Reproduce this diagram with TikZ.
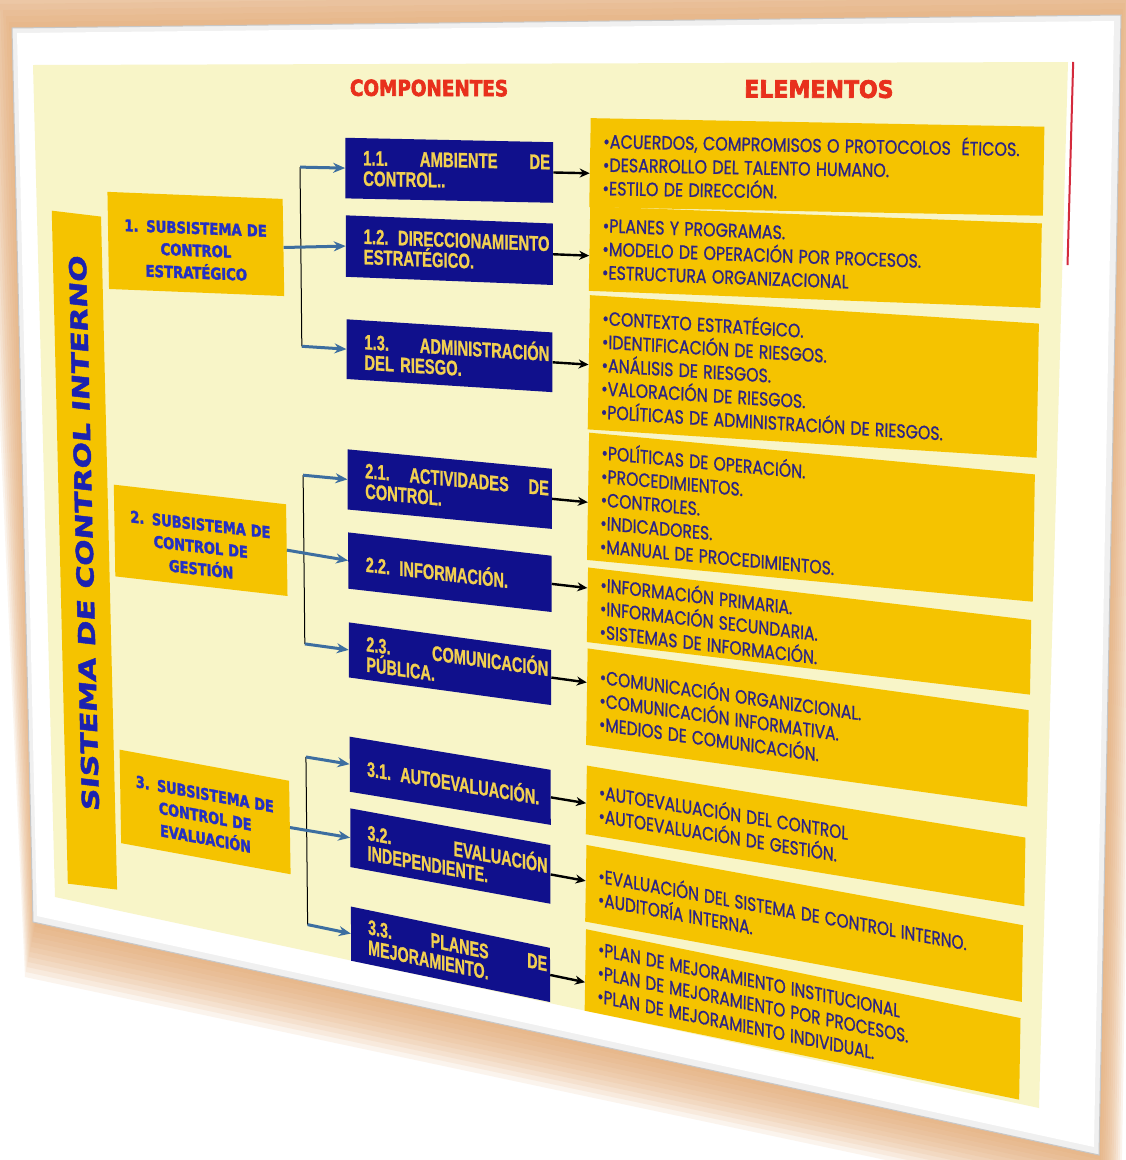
\documentclass[tikz,border=0pt]{standalone}
\usepackage{fontspec}
\newfontfamily\elfont[FakeBold=1]{Poppins}
\newfontfamily\compfont[FakeStretch=0.79,FakeBold=1]{Liberation Sans}
\newfontfamily\lvlfont[FakeStretch=0.86,FakeBold=2]{DejaVu Sans}
\newfontfamily\titfont[FakeStretch=1.28,FakeBold=2]{DejaVu Sans}
\newfontfamily\headfont[FakeStretch=0.92,FakeBold=3]{DejaVu Sans}
\usetikzlibrary{arrows.meta}
\definecolor{cream}{HTML}{F8F5C8}
\definecolor{gold}{HTML}{F5C300}
\definecolor{navy}{HTML}{10108C}
\definecolor{ytext}{HTML}{F2D050}
\definecolor{etext}{HTML}{2C2486}
\definecolor{ltext}{HTML}{2430C4}
\definecolor{ttext}{HTML}{1C22B0}
\definecolor{hred}{HTML}{E8301C}
\definecolor{ablue}{HTML}{3D6EA0}
\definecolor{shad}{HTML}{E3A66C}
\definecolor{rline}{HTML}{D42A3C}
\setlength{\parindent}{0pt}
% bilinear map of the slide (u,v in [0,1]) onto the tilted picture, with local Jacobian
\newcommand\slidecalc[2]{%
  \pgfmathsetmacro\slX{33+1035*(#1)+(#2)*(22-51*(#1))}%
  \pgfmathsetmacro\slY{-(65-3*(#1)+(#2)*(832+214*(#1)))}%
  \pgfmathsetmacro\slJa{(1035-51*(#2))/1035}%
  \pgfmathsetmacro\slJb{(3-214*(#2))/1035}%
  \pgfmathsetmacro\slJc{-(22-51*(#1))/832}%
  \pgfmathsetmacro\slJd{(832+214*(#1))/832}%
}
% component box texts: left indent, justified first line
\newcommand\ctwo[2]{\hspace*{15pt}\makebox[\dimexpr\hsize-15pt][s]{#1}\\\hspace*{15pt}#2}
\newcommand\cone[1]{\hspace*{15pt}\mbox{#1}}
% subsystem first line, pushed down a little
\newcommand\lfirst[2]{\rule{0pt}{#1}\mbox{#2}}
\tikzset{
  uv/.style 2 args={/utils/exec={\slidecalc{#1}{#2}},
    cm={\slJa,\slJb,\slJc,\slJd,(\slX pt,\slY pt)}, transform shape},
  lvl/.style={fill=gold, inner sep=0pt, minimum width=177pt, text width=172pt,
    align=center, text=ltext, font={\lvlfont\bfseries\fontsize{15.5pt}{21.5pt}\selectfont}},
  comp/.style={fill=navy, inner sep=0pt, minimum width=209pt, text width=203pt,
    align=left, text=ytext, font={\compfont\bfseries\fontsize{19pt}{18.5pt}\selectfont}},
  elem/.style={fill=gold, inner sep=0pt, minimum width=456pt, text width=430pt,
    align=left, text=etext, font={\elfont\fontsize{16pt}{19.6pt}\selectfont}},
  hdr/.style={text=hred, inner sep=0pt, font={\headfont\bfseries\fontsize{20pt}{22pt}\selectfont}},
  barttl/.style={text=ttext, inner sep=0pt, font={\titfont\bfseries\fontsize{24pt}{26pt}\selectfont}},
  barrow/.style={draw=ablue, line width=3pt, -{Stealth[length=12pt,width=10pt]}},
  karrow/.style={draw=black, line width=2.4pt, -{Stealth[length=10pt,width=9pt]}},
  vline/.style={draw=black, line width=1pt},
}
\begin{document}
\begin{tikzpicture}[x=1pt,y=1pt]
\useasboundingbox (0,0) rectangle (1126,-1160);
\fill[white] (0,0) rectangle (1126,-1160);
% frame shadow (soft, layered)
\foreach \k in {1,...,11}{
  \fill[shad,opacity=0.12] ({12-3*\k},{-28+6*\k}) -- ({1121+2*\k},{-15+6*\k})
     -- ({1099+2*\k},{-1155-5*\k}) -- ({36-1*\k},{-922-5*\k}) -- cycle;
}
% frame
\fill[black!6] (12,-28) -- (1121,-15) -- (1099,-1155) -- (33,-922) -- cycle;
\fill[white] (17,-33) -- (1114,-21) -- (1094,-1147) -- (37,-916) -- cycle;
\draw[black!22,line width=1pt] (12,-28) -- (1121,-15) -- (1099,-1155) -- (33,-922) -- cycle;
% slide background
\fill[cream] (33,-65) -- (1068,-62) -- (1039,-1108) -- (55,-897) -- cycle;
\coordinate[uv={1.005}{0}] (r1) at (0,0);
\coordinate[uv={1.005}{0.194}] (r2) at (0,0);
\draw[rline,line width=2pt] (r1) -- (r2);

% headers
\node[hdr, uv={0.3826}{0.0264}] (hcomp) {COMPONENTES};
\node[hdr, uv={0.7598}{0.0264}, xscale=1.2] (helem) {ELEMENTOS};

% vertical bar
\node[fill=gold, inner sep=0pt, uv={0.0385}{0.5775}, minimum width=50.7pt, minimum height=666.4pt] (bar) {};
\node[barttl, uv={0.0385}{0.557}, rotate=90] (ttl) {SISTEMA DE CONTROL INTERNO};

% subsystems
\node[lvl, uv={0.1545}{0.2074}, minimum height=93.4pt] (l1) {\lfirst{24pt}{1. SUBSISTEMA DE}\\CONTROL\\ESTRATÉGICO};
\node[lvl, uv={0.1545}{0.55}, minimum height=88.2pt] (l2) {\lfirst{24pt}{2. SUBSISTEMA DE}\\CONTROL DE\\GESTIÓN};
\node[lvl, uv={0.1545}{0.864}, minimum height=89.9pt] (l3) {\lfirst{20pt}{3. SUBSISTEMA DE}\\CONTROL DE\\EVALUACIÓN};

% components
\node[comp, uv={0.402}{0.116}, minimum height=54.9pt] (c11) {\ctwo{1.1.\hfill AMBIENTE\hfill DE}{CONTROL..}};
\node[comp, uv={0.402}{0.203}, minimum height=55.7pt] (c12) {\ctwo{1.2. DIRECCIONAMIENTO}{ESTRATÉGICO.}};
\node[comp, uv={0.402}{0.318}, minimum height=54.1pt] (c13) {\ctwo{1.3.\hfill ADMINISTRACIÓN}{DEL RIESGO.}};
\node[comp, uv={0.402}{0.4633}, minimum height=54.5pt] (c21) {\ctwo{2.1.\hfill ACTIVIDADES\hfill DE}{CONTROL.}};
\node[comp, uv={0.402}{0.5538}, minimum height=51pt] (c22) {\cone{2.2. INFORMACIÓN.}};
\node[comp, uv={0.402}{0.6535}, minimum height=49.9pt] (c23) {\ctwo{2.3.\hfill COMUNICACIÓN}{PÚBLICA.}};
\node[comp, uv={0.402}{0.781}, minimum height=49.9pt] (c31) {\cone{3.1. AUTOEVALUACIÓN.}};
\node[comp, uv={0.402}{0.863}, minimum height=53.2pt] (c32) {\ctwo{3.2.\hfill EVALUACIÓN}{INDEPENDIENTE.}};
\node[comp, uv={0.402}{0.970}, minimum height=49.1pt] (c33) {\ctwo{3.3.\hfill PLANES\hfill DE}{MEJORAMIENTO.}};

% elements
\node[elem, uv={0.759}{0.1048}, minimum height=74.5pt] (e1) {\mbox{•ACUERDOS, COMPROMISOS O PROTOCOLOS\ \ ÉTICOS.}\\\mbox{•DESARROLLO DEL TALENTO HUMANO.}\\\mbox{•ESTILO DE DIRECCIÓN.}};
\node[elem, uv={0.759}{0.1955}, minimum height=70.7pt] (e2) {\mbox{•PLANES Y PROGRAMAS.}\\\mbox{•MODELO DE OPERACIÓN POR PROCESOS.}\\\mbox{•ESTRUCTURA ORGANIZACIONAL}};
\node[elem, uv={0.759}{0.3155}, minimum height=112.3pt] (e3) {\mbox{•CONTEXTO ESTRATÉGICO.}\\\mbox{•IDENTIFICACIÓN DE RIESGOS.}\\\mbox{•ANÁLISIS DE RIESGOS.}\\\mbox{•VALORACIÓN DE RIESGOS.}\\\mbox{•POLÍTICAS DE ADMINISTRACIÓN DE RIESGOS.}};
\node[elem, uv={0.759}{0.457}, minimum height=106.5pt] (e4) {\mbox{•POLÍTICAS DE OPERACIÓN.}\\\mbox{•PROCEDIMIENTOS.}\\\mbox{•CONTROLES.}\\\mbox{•INDICADORES.}\\\mbox{•MANUAL DE PROCEDIMIENTOS.}};
\node[elem, uv={0.759}{0.5715}, minimum height=62.4pt] (e5) {\mbox{•INFORMACIÓN PRIMARIA.}\\\mbox{•INFORMACIÓN SECUNDARIA.}\\\mbox{•SISTEMAS DE INFORMACIÓN.}};
\node[elem, uv={0.759}{0.6685}, minimum height=80.7pt] (e6) {\mbox{•COMUNICACIÓN ORGANIZCIONAL.}\\\mbox{•COMUNICACIÓN INFORMATIVA.}\\\mbox{•MEDIOS DE COMUNICACIÓN.}};
\node[elem, uv={0.759}{0.7775}, minimum height=57.4pt] (e7) {\mbox{•AUTOEVALUACIÓN DEL CONTROL}\\\mbox{•AUTOEVALUACIÓN DE GESTIÓN.}};
\node[elem, uv={0.759}{0.8655}, minimum height=64.1pt] (e8) {\mbox{•EVALUACIÓN DEL SISTEMA DE CONTROL INTERNO.}\\\mbox{•AUDITORÍA INTERNA.}};
\node[elem, uv={0.759}{0.957}, minimum height=68.2pt] (e9) {\mbox{•PLAN DE MEJORAMIENTO INSTITUCIONAL}\\\mbox{•PLAN DE MEJORAMIENTO POR PROCESOS.}\\\mbox{•PLAN DE MEJORAMIENTO INDIVIDUAL.}};

% junction coordinates of the brackets
\coordinate[uv={0.257}{0.116}] (j11) at (0,0);
\coordinate[uv={0.257}{0.318}] (j13) at (0,0);
\coordinate[uv={0.257}{0.4633}] (j21) at (0,0);
\coordinate[uv={0.257}{0.6535}] (j23) at (0,0);
\coordinate[uv={0.257}{0.781}] (j31) at (0,0);
\coordinate[uv={0.257}{0.970}] (j33) at (0,0);
% arrow tips on the element boxes
\coordinate[uv={0.5385}{0.116}] (t11) at (0,0);
\coordinate[uv={0.5385}{0.203}] (t12) at (0,0);
\coordinate[uv={0.5385}{0.318}] (t13) at (0,0);
\coordinate[uv={0.5385}{0.4633}] (t21) at (0,0);
\coordinate[uv={0.5385}{0.5538}] (t22) at (0,0);
\coordinate[uv={0.5385}{0.6535}] (t23) at (0,0);
\coordinate[uv={0.5385}{0.781}] (t31) at (0,0);
\coordinate[uv={0.5385}{0.863}] (t32) at (0,0);
\coordinate[uv={0.5385}{0.970}] (t33) at (0,0);

% brackets
\draw[vline] (j11) -- (j13);
\draw[vline] (j21) -- (j23);
\draw[vline] (j31) -- (j33);
\draw[barrow] (j11) -- (c11.west);
\draw[barrow] (j13) -- (c13.west);
\draw[barrow] (l1.east) -- (c12.west);
\draw[barrow] (j21) -- (c21.west);
\draw[barrow] (j23) -- (c23.west);
\draw[barrow] (l2.east) -- (c22.west);
\draw[barrow] (j31) -- (c31.west);
\draw[barrow] (j33) -- (c33.west);
\draw[barrow] (l3.east) -- (c32.west);

% component -> element arrows
\draw[karrow] (c11.east) -- (t11);
\draw[karrow] (c12.east) -- (t12);
\draw[karrow] (c13.east) -- (t13);
\draw[karrow] (c21.east) -- (t21);
\draw[karrow] (c22.east) -- (t22);
\draw[karrow] (c23.east) -- (t23);
\draw[karrow] (c31.east) -- (t31);
\draw[karrow] (c32.east) -- (t32);
\draw[karrow] (c33.east) -- (t33);
\end{tikzpicture}
\end{document}
